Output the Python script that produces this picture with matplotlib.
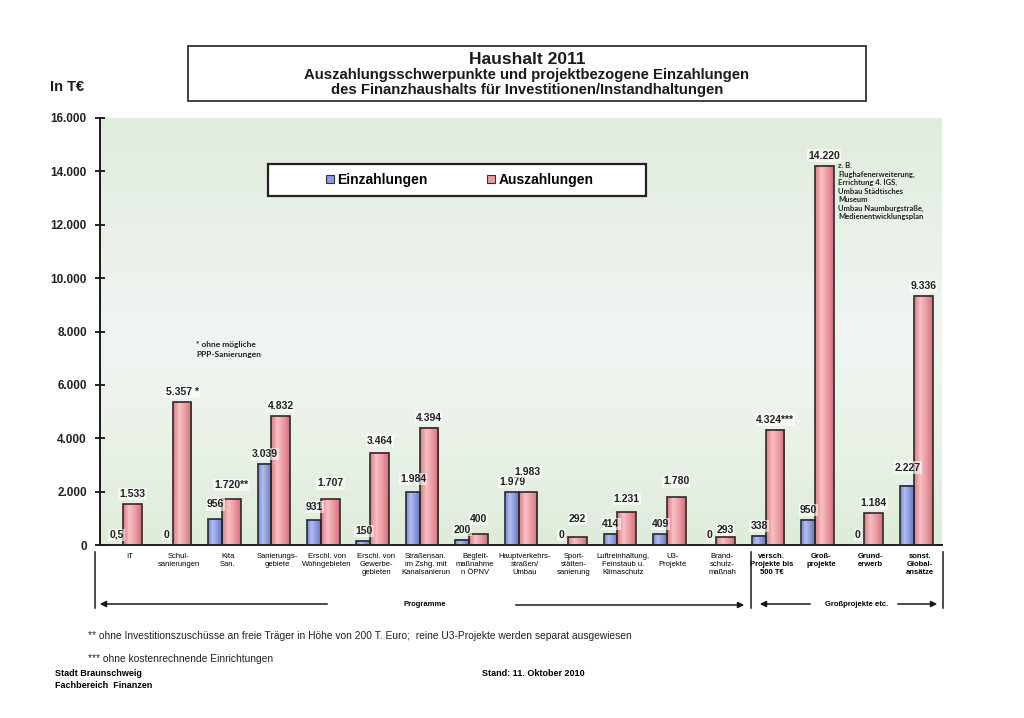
import matplotlib
matplotlib.use('Agg')
import matplotlib.pyplot as plt
import numpy as np
from matplotlib.colors import LinearSegmentedColormap
from matplotlib.patches import Rectangle, Patch
from matplotlib.lines import Line2D

plt.rcParams['font.family'] = ['Liberation Sans', 'DejaVu Sans']

# Daten (in T€)
kategorien = ['IT', 'Schul-\nsanierungen', 'Kita\nSan.', 'Sanierungs-\ngebiete',
              'Erschl. von\nWohngebieten', 'Erschl. von\nGewerbe-\ngebieten',
              'Straßensan.\nim Zshg. mit\nKanalsanierun', 'Begleit-\nmaßnahme\nn ÖPNV',
              'Hauptverkehrs-\nstraßen/\nUmbau', 'Sport-\nstätten-\nsanierung',
              'Luftreinhaltung,\nFeinstaub u.\nKlimaschutz', 'U3-\nProjekte',
              'Brand-\nschutz-\nmaßnah', 'versch.\nProjekte bis\n500 T€', 'Groß-\nprojekte',
              'Grund-\nerwerb', 'sonst.\nGlobal-\nansätze']
einzahlungen = [0.5, 0, 956, 3039, 931, 150, 1984, 200, 1979, 0, 414, 409, 0, 338, 950, 0, 2227]
auszahlungen = [1533, 5357, 1720, 4832, 1707, 3464, 4394, 400, 1983, 292, 1231, 1780, 293,
                4324, 14220, 1184, 9336]
zusatz = ['', ' *', '**', '', '', '', '', '', '', '', '', '', '', '***', '', '', '']
y_ticks = [0, 2000, 4000, 6000, 8000, 10000, 12000, 14000, 16000]

# Abstand der Beschriftungen ueber den Balken (px), sonst 10
dy_ein = {2: 15, 4: 13, 6: 13, 16: 18}
dy_aus = {2: 14, 4: 16, 5: 12, 7: 15, 8: 20, 9: 18, 10: 13, 11: 16, 12: 7}


def de(v):
    if v != int(v):
        return str(v).replace('.', ',')
    return f'{int(v):,}'.replace(',', '.')


def fp(x, y):
    return (x / 1024, 1 - y / 718)


blau = '#8d99e0'
rot = '#ec9aa2'
cm_blau = LinearSegmentedColormap.from_list('b', ['#7484d4', '#b3bdf0', '#8d99e0', '#6676c6'])
cm_rot = LinearSegmentedColormap.from_list('r', ['#dc7b86', '#f7c0c4', '#ec9aa2', '#d46d79'])

fig = plt.figure(figsize=(10.24, 7.18), dpi=100)
fig.patch.set_facecolor('white')
ax = fig.add_axes([100 / 1024, 1 - 545 / 718, 842 / 1024, 427 / 718])
x = np.arange(len(kategorien))
ax.set_xlim(-0.47, 16.57)
ax.set_ylim(0, 16000)

# Hintergrund-Verlauf
bg = LinearSegmentedColormap.from_list('bg', ['#e0edde', '#e8f0e7', '#f0f5f2', '#eaf2e8', '#deecda'])
ax.imshow(np.linspace(0, 1, 256).reshape(-1, 1), cmap=bg, aspect='auto',
          extent=(-0.47, 16.57, 0, 16000), zorder=0)

b1 = ax.bar(x, einzahlungen, width=-0.28, align='edge', facecolor='none',
            edgecolor='#2b2b2b', linewidth=1.2, zorder=3)
b2 = ax.bar(x, auszahlungen, width=0.38, align='edge', facecolor='none',
            edgecolor='#2b2b2b', linewidth=1.2, zorder=3)
grad = np.linspace(0, 1, 64).reshape(1, -1)
for bars, cm in ((b1, cm_blau), (b2, cm_rot)):
    for p in bars:
        x0, w, h = p.get_x(), p.get_width(), p.get_height()
        if h <= 0:
            continue
        ax.imshow(grad, cmap=cm, aspect='auto', extent=(min(x0, x0 + w), max(x0, x0 + w), 0, h),
                  zorder=2)

box = dict(facecolor='white', edgecolor='none', alpha=0.6, pad=0.8)
for i in range(len(kategorien)):
    ax.annotate(de(einzahlungen[i]), (x[i] - 0.13, einzahlungen[i]), xytext=(0, dy_ein.get(i, 10) * 0.72),
                textcoords='offset points', ha='center', va='center', fontsize=7.5,
                fontweight='bold', color='#222222', bbox=box, zorder=4)
    ax.annotate(de(auszahlungen[i]) + zusatz[i], (x[i] + 0.19, auszahlungen[i]),
                xytext=(0, dy_aus.get(i, 10) * 0.72), textcoords='offset points',
                ha='center', va='center', fontsize=7.5, fontweight='bold', color='#222222',
                bbox=box, zorder=4)

ax.set_xticks(x + 0.12)
ax.set_xticklabels(kategorien, fontsize=5.5)
for i, lbl in enumerate(ax.get_xticklabels()):
    lbl.set_linespacing(1.15)
    if i >= 13:
        lbl.set_fontweight('bold')
ax.tick_params(axis='x', length=0, pad=6)
ax.set_yticks(y_ticks)
ax.set_yticklabels([de(v) for v in y_ticks], fontsize=8.5, fontweight='bold', color='#222222')
ax.tick_params(axis='y', direction='inout', length=7, width=1.2, pad=6)
for s in ('top', 'right'):
    ax.spines[s].set_visible(False)
for s in ('left', 'bottom'):
    ax.spines[s].set_linewidth(1.4)
    ax.spines[s].set_color('#1a1a1a')

# Legende
ax.add_patch(Rectangle((0.1995, 0.817), 0.449, 0.075, transform=ax.transAxes, facecolor='white',
                       edgecolor='#222222', linewidth=1.6, zorder=5))
handles = [Patch(facecolor=blau, edgecolor='#333333', linewidth=0.8),
           Patch(facecolor=rot, edgecolor='#333333', linewidth=0.8)]
leg = ax.legend(handles, ['Einzahlungen', 'Auszahlungen'], loc='center',
                bbox_to_anchor=(0.427, 0.855), ncol=2, frameon=False,
                prop=dict(size=10, weight='bold'), handlelength=0.6, handleheight=0.6,
                handletextpad=0.2, columnspacing=4.3)
leg.set_zorder(6)

# Anmerkungen im Diagramm
fig.text(*fp(196, 341), '* ohne mögliche\nPPP-Sanierungen', fontsize=6, fontweight='bold',
         family=['Lato', 'DejaVu Sans'], va='top', linespacing=1.45, color='#222222')
fig.text(*fp(838, 162), 'z. B.\nFlughafenerweiterung,\nErrichtung 4. IGS,\nUmbau Städtisches\nMuseum\n'
         'Umbau Naumburgstraße,\nMedienentwicklungsplan', fontsize=5.5, fontweight='bold',
         family=['Lato', 'DejaVu Sans'], va='top', linespacing=1.25, color='#222222')

# Titel
fig.add_artist(Rectangle(fp(188, 101), 678 / 1024, 55 / 718, transform=fig.transFigure,
                         facecolor='white', edgecolor='#333333', linewidth=1.3))
fig.text(*fp(527, 60), 'Haushalt 2011', ha='center', va='center', fontsize=12.5, fontweight='bold',
         color='#1a1a1a')
fig.text(*fp(527, 75), 'Auszahlungsschwerpunkte und projektbezogene Einzahlungen', ha='center',
         va='center', fontsize=10.7, fontweight='bold', color='#1a1a1a')
fig.text(*fp(527, 90), 'des Finanzhaushalts für Investitionen/Instandhaltungen', ha='center',
         va='center', fontsize=10.7, fontweight='bold', color='#1a1a1a')
fig.text(*fp(50, 87), 'In T€', va='center', fontsize=10.5, fontweight='bold', color='#1a1a1a')

# Gruppierung unter der Achse
for xv in (95, 751, 943):
    fig.add_artist(Line2D([xv / 1024, xv / 1024], [1 - 552 / 718, 1 - 608 / 718],
                          transform=fig.transFigure, color='#1a1a1a', linewidth=1.1))
pfeil = dict(arrowstyle='-|>', color='#1a1a1a', lw=1.1, mutation_scale=9)
for a, b in (((330, 604), (97, 604)), ((513, 605), (747, 605)),
             ((813, 604), (757, 604)), ((895, 604), (940, 604))):
    ax.annotate('', xy=fp(*b), xytext=fp(*a), xycoords='figure fraction',
                textcoords='figure fraction', arrowprops=pfeil, annotation_clip=False)
fig.text(*fp(425, 605), 'Programme', ha='center', va='center', fontsize=5.5, fontweight='bold')
fig.text(*fp(857, 604), 'Großprojekte etc.', ha='center', va='center', fontsize=5.5,
         fontweight='bold')

# Fussnoten
fig.text(*fp(88, 636), '** ohne Investitionszuschüsse an freie Träger in Höhe von 200 T. Euro;  '
         'reine U3-Projekte werden separat ausgewiesen', va='center', fontsize=7.4, color='#222222')
fig.text(*fp(88, 659), '*** ohne kostenrechnende Einrichtungen', va='center', fontsize=7.4,
         color='#222222')
fig.text(*fp(55, 673), 'Stadt Braunschweig', va='center', fontsize=6.5, fontweight='bold')
fig.text(*fp(55, 685), 'Fachbereich  Finanzen', va='center', fontsize=6.5, fontweight='bold')
fig.text(*fp(482, 673), 'Stand: 11. Oktober 2010', va='center', fontsize=6.5, fontweight='bold')

fig.savefig('out.png', dpi=100)
